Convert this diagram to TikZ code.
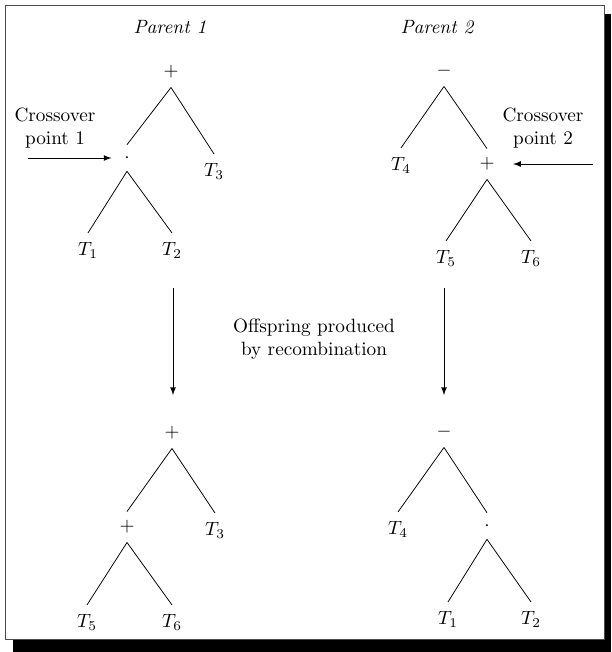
\documentclass[tikz,border=0pt]{standalone}
\usepackage{amsmath,amssymb}
\usetikzlibrary{arrows.meta, positioning}

\begin{document}
\begin{tikzpicture}[>=latex, x={(0.52pt,0)}, y={(0,-0.52pt)},
  op/.style={inner sep=4.5pt},
  leaf/.style={inner sep=4.5pt},
  note/.style={align=center, font=\normalsize}]
\useasboundingbox (0,0) rectangle (611,652);
% frame and shadow
\fill[black] (13,14) rectangle (611,652);
\draw[fill=white, draw=black!70] (5,5) rectangle (604,639);

% parents
\node (lab1) at (170,27) {\itshape Parent 1};
\node (lab2) at (437,27) {\itshape Parent 2};

\node[op] (a) at (171,72) {$+$};
\node[op] (b) at (127,158) {$\cdot$};
\node[leaf] (t3) at (214,171) {$T_3$};
\node[leaf] (t1) at (88,250) {$T_1$};
\node[leaf] (t2) at (172,250) {$T_2$};
\draw (a.south) -- (b.north) (a.south) -- (t3.north);
\draw (b.south) -- (t1.north) (b.south) -- (t2.north);

\node[op] (c) at (444,71) {$-$};
\node[leaf] (t4) at (401,165) {$T_4$};
\node[op] (d) at (487,164) {$+$};
\node[leaf] (t5) at (446,258) {$T_5$};
\node[leaf] (t6) at (531,258) {$T_6$};
\draw (c.south) -- (t4.north) (c.south) -- (d.north);
\draw (d.south) -- (t5.north) (d.south) -- (t6.north);

% crossover points
\node[note] (cp1) at (55,128) {Crossover\\point 1};
\node[note] (cp2) at (543,128) {Crossover\\point 2};
\coordinate (s1) at (28,158);
\coordinate (s2) at (593,164);
\draw[->, shorten >=2pt] (s1) -- (b);
\draw[->, shorten >=5pt] (s2) -- (d);

% offspring
\node[note] (rec) at (314,339) {Offspring produced\\by recombination};
\coordinate (u1) at (173,288);
\coordinate (v1) at (173,395);
\coordinate (u2) at (444,288);
\coordinate (v2) at (444,395);
\draw[->] (u1) -- (v1);
\draw[->] (u2) -- (v2);

\node[op] (e) at (172,433) {$+$};
\node[op] (f) at (127,527) {$+$};
\node[leaf] (t3b) at (215,530) {$T_3$};
\node[leaf] (t5b) at (87,622) {$T_5$};
\node[leaf] (t6b) at (172,622) {$T_6$};
\draw (e.south) -- (f.north) (e.south) -- (t3b.north);
\draw (f.south) -- (t5b.north) (f.south) -- (t6b.north);

\node[op] (g) at (444,432) {$-$};
\node[leaf] (t4b) at (398,529) {$T_4$};
\node[op] (h) at (487,526) {$\cdot$};
\node[leaf] (t1b) at (448,619) {$T_1$};
\node[leaf] (t2b) at (531,619) {$T_2$};
\draw (g.south) -- (t4b.north) (g.south) -- (h.north);
\draw (h.south) -- (t1b.north) (h.south) -- (t2b.north);
\end{tikzpicture}
\end{document}
